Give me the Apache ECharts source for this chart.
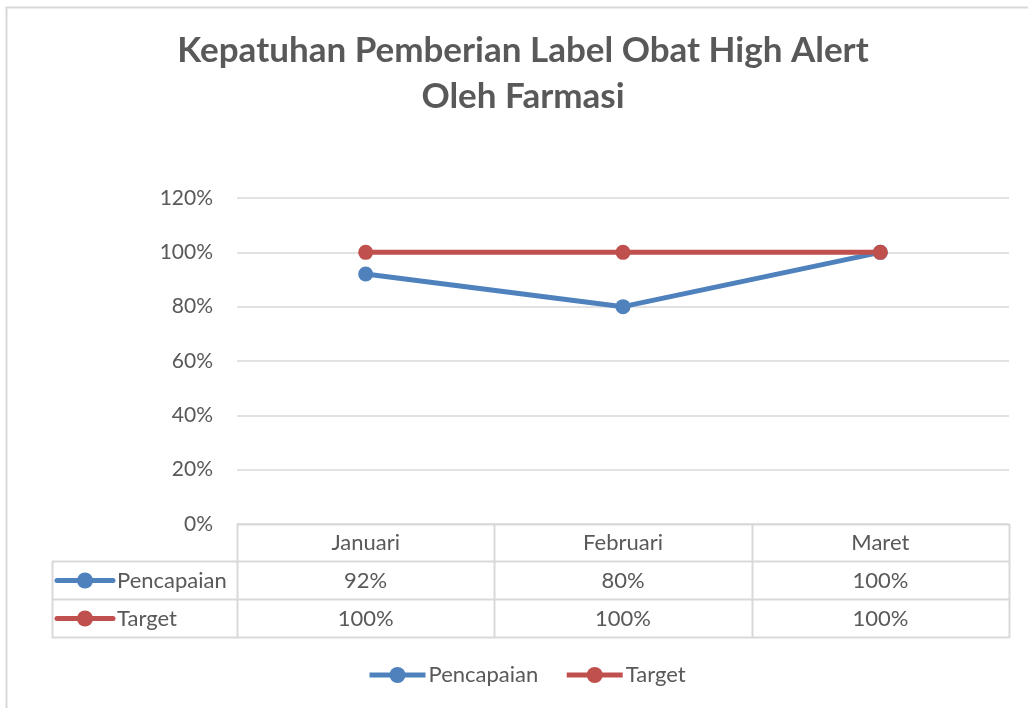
<!DOCTYPE html>
<html>
<head>
<meta charset="utf-8">
<script src="https://cdn.jsdelivr.net/npm/echarts@6/dist/echarts.min.js"></script>
<style>
  html, body { margin: 0; padding: 0; background: #fff; }
  #chart { width: 1028px; height: 708px; }
</style>
</head>
<body>
<div id="chart"></div>
<script>
(function () {
    'use strict';
    // data
    var months = ['Januari', 'Februari', 'Maret'];
    var seriesNames = ['Pencapaian', 'Target'];
    var pencapaian = [0.92, 0.80, 1.00];
    var target = [1.00, 1.00, 1.00];
    var colors = ['#4f81bd', '#c0504d'];

    var FONT = 'Lato, "Open Sans", sans-serif';
    var TEXT = '#595959';
    var BORDER = '#d9d9d9';

    // layout of plot area (px)
    var gLeft = 237, gRight = 1009, gTop = 198, gBottom = 524;
    var tableLeft = 52;

    function pct(v) { return Math.round(v * 100) + '%'; }

    var myChart = echarts.init(document.getElementById('chart'));

    // data table borders + row headers
    var graphics = [];
    graphics.push({
        type: 'rect', shape: { x: 6.5, y: 7.5, width: 1040, height: 720 },
        style: { fill: null, stroke: BORDER, lineWidth: 2 }, silent: true
    });
    var rows = [gBottom, gBottom + 37, gBottom + 75, gBottom + 113];
    graphics.push({ type: 'line', shape: { x1: gLeft, y1: rows[0] + 0.5, x2: gRight, y2: rows[0] + 0.5 }, style: { stroke: BORDER, lineWidth: 2 } });
    for (var r = 1; r < rows.length; r++) {
        graphics.push({ type: 'line', shape: { x1: tableLeft, y1: rows[r] + 0.5, x2: gRight, y2: rows[r] + 0.5 }, style: { stroke: BORDER, lineWidth: 2 } });
    }
    var bandW = (gRight - gLeft) / months.length;
    for (var c = 0; c <= months.length; c++) {
        var x = Math.round(gLeft + c * bandW) + 0.5;
        graphics.push({ type: 'line', shape: { x1: x, y1: rows[0], x2: x, y2: rows[3] + 1 }, style: { stroke: BORDER, lineWidth: 2 } });
    }
    graphics.push({ type: 'line', shape: { x1: tableLeft + 0.5, y1: rows[1], x2: tableLeft + 0.5, y2: rows[3] + 1 }, style: { stroke: BORDER, lineWidth: 2 } });

    seriesNames.forEach(function (name, i) {
        var cy = (rows[i + 1] + rows[i + 2]) / 2 + 0.5;
        graphics.push({ type: 'line', shape: { x1: 57, y1: cy, x2: 113, y2: cy }, style: { stroke: colors[i], lineWidth: 5, lineCap: 'round' } });
        graphics.push({ type: 'circle', shape: { cx: 85, cy: cy, r: 8 }, style: { fill: colors[i] } });
        graphics.push({ type: 'text', x: 117, y: cy, style: { text: name, fill: TEXT, font: '22px ' + FONT, textVerticalAlign: 'middle' } });
    });

    var option = {
        animation: false,
        backgroundColor: '#fff',
        title: {
            text: 'Kepatuhan Pemberian Label Obat High Alert\nOleh Farmasi',
            left: 523,
            top: 28,
            textAlign: 'center',
            padding: 0,
            textStyle: { color: TEXT, fontFamily: FONT, fontWeight: 'bold', fontSize: 35, lineHeight: 46 }
        },
        color: colors,
        legend: {
            left: 367,
            top: 664,
            padding: 0,
            itemWidth: 56,
            itemHeight: 20,
            itemGap: 26,
            lineStyle: { width: 5 },
            textStyle: { color: TEXT, fontFamily: FONT, fontSize: 22, padding: [0, 0, 0, -2] },
            data: seriesNames
        },
        grid: { left: gLeft, right: 1028 - gRight, top: gTop, bottom: 708 - gBottom, containLabel: false },
        xAxis: {
            type: 'category',
            data: months,
            axisLine: { show: false },
            axisTick: { show: false },
            axisLabel: {
                margin: 0,
                interval: 0,
                formatter: function (val, idx) {
                    return '{a|' + val + '}\n{a|' + pct(pencapaian[idx]) + '}\n{a|' + pct(target[idx]) + '}';
                },
                rich: {
                    a: { color: TEXT, fontFamily: FONT, fontSize: 22, lineHeight: 38, align: 'center' }
                }
            }
        },
        yAxis: {
            type: 'value',
            min: 0,
            max: 1.2,
            interval: 0.2,
            axisLine: { show: false },
            axisTick: { show: false },
            axisLabel: { margin: 24, color: TEXT, fontFamily: FONT, fontSize: 21, formatter: pct },
            splitLine: { lineStyle: { color: BORDER, width: 1.5 } }
        },
        series: [
            {
                name: seriesNames[0], type: 'line', data: pencapaian,
                symbol: 'circle', symbolSize: 15,
                lineStyle: { width: 5, color: colors[0] },
                itemStyle: { color: colors[0] }
            },
            {
                name: seriesNames[1], type: 'line', data: target,
                symbol: 'circle', symbolSize: 15,
                lineStyle: { width: 5, color: colors[1] },
                itemStyle: { color: colors[1] }
            }
        ],
        graphic: graphics
    };

    myChart.setOption(option);
    window.addEventListener('resize', function () {
        myChart.resize();
    });
})();
</script>
</body>
</html>
